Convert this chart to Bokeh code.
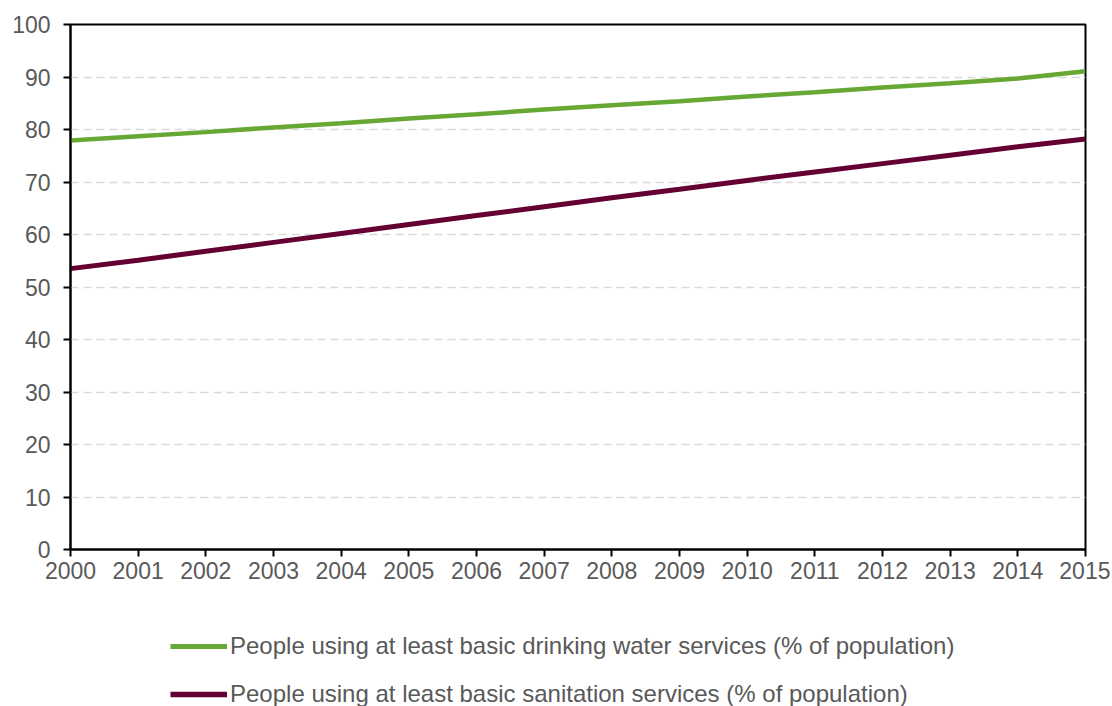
from bokeh.plotting import figure
from bokeh.models import Legend, LegendItem, FixedTicker, Range1d
from bokeh.layouts import column
from bokeh.embed import file_html
from bokeh.resources import INLINE

years = list(range(2000, 2016))
water = [77.9, 78.7, 79.5, 80.4, 81.2, 82.1, 82.9, 83.8, 84.6, 85.4, 86.3, 87.1, 88.0, 88.8, 89.7, 91.1]
sanitation = [53.5, 55.1, 56.8, 58.5, 60.2, 61.9, 63.6, 65.3, 67.0, 68.6, 70.3, 71.9, 73.5, 75.1, 76.7, 78.2]
labels = ["People using at least basic drinking water services (% of population)",
          "People using at least basic sanitation services (% of population)"]
y_ticks = list(range(0, 101, 10))

FONT = "Liberation Sans"
TXT = "#595959"
GREEN = "#67a834"
PURPLE = "#640032"

p = figure(width=1110, height=600, output_backend="svg", toolbar_location=None,
           x_range=Range1d(2000, 2015), y_range=Range1d(0, 100),
           min_border_left=70, min_border_top=24, min_border_right=25, min_border_bottom=51)

p.line(years, water, line_color=GREEN, line_width=4.5)
p.line(years, sanitation, line_color=PURPLE, line_width=5)

p.outline_line_color = "black"
p.outline_line_width = 2
p.xgrid.visible = False
p.ygrid.grid_line_color = "#d9d9d9"
p.ygrid.grid_line_dash = "8 5"
p.ygrid.grid_line_width = 1.5

p.xaxis.ticker = FixedTicker(ticks=years)
p.yaxis.ticker = FixedTicker(ticks=y_ticks)
for ax in (p.xaxis, p.yaxis):
    ax.axis_line_color = "black"
    ax.axis_line_width = 2
    ax.major_tick_line_color = "black"
    ax.major_tick_line_width = 2
    ax.major_tick_out = 7
    ax.major_tick_in = 0
    ax.minor_tick_line_color = None
    ax.major_label_text_font = FONT
    ax.major_label_text_color = TXT
    ax.major_label_text_font_size = "23px"
p.xaxis.major_label_standoff = 5
p.yaxis.major_label_standoff = 13

# legend strip below the chart
q = figure(width=1110, height=106, output_backend="svg", toolbar_location=None,
           x_range=Range1d(0, 1), y_range=Range1d(0, 1),
           x_axis_type=None, y_axis_type=None,
           min_border_left=0, min_border_top=0, min_border_right=0, min_border_bottom=0)
q.outline_line_color = None
q.grid.visible = False
l1 = q.line(years, water, line_color=GREEN, line_width=5)
l2 = q.line(years, sanitation, line_color=PURPLE, line_width=5.5)

legend = Legend(items=[LegendItem(label=labels[0], renderers=[l1]),
                       LegendItem(label=labels[1], renderers=[l2])],
                orientation="vertical", location=(100, -2),
                label_text_font=FONT, label_text_font_size="24px", label_text_color=TXT,
                glyph_width=57, glyph_height=28, label_height=28,
                label_standoff=3, spacing=20, padding=0, margin=0,
                border_line_color=None, background_fill_alpha=0)
q.add_layout(legend, "center")

open("out.html", "w").write(file_html(column(p, q), INLINE))
